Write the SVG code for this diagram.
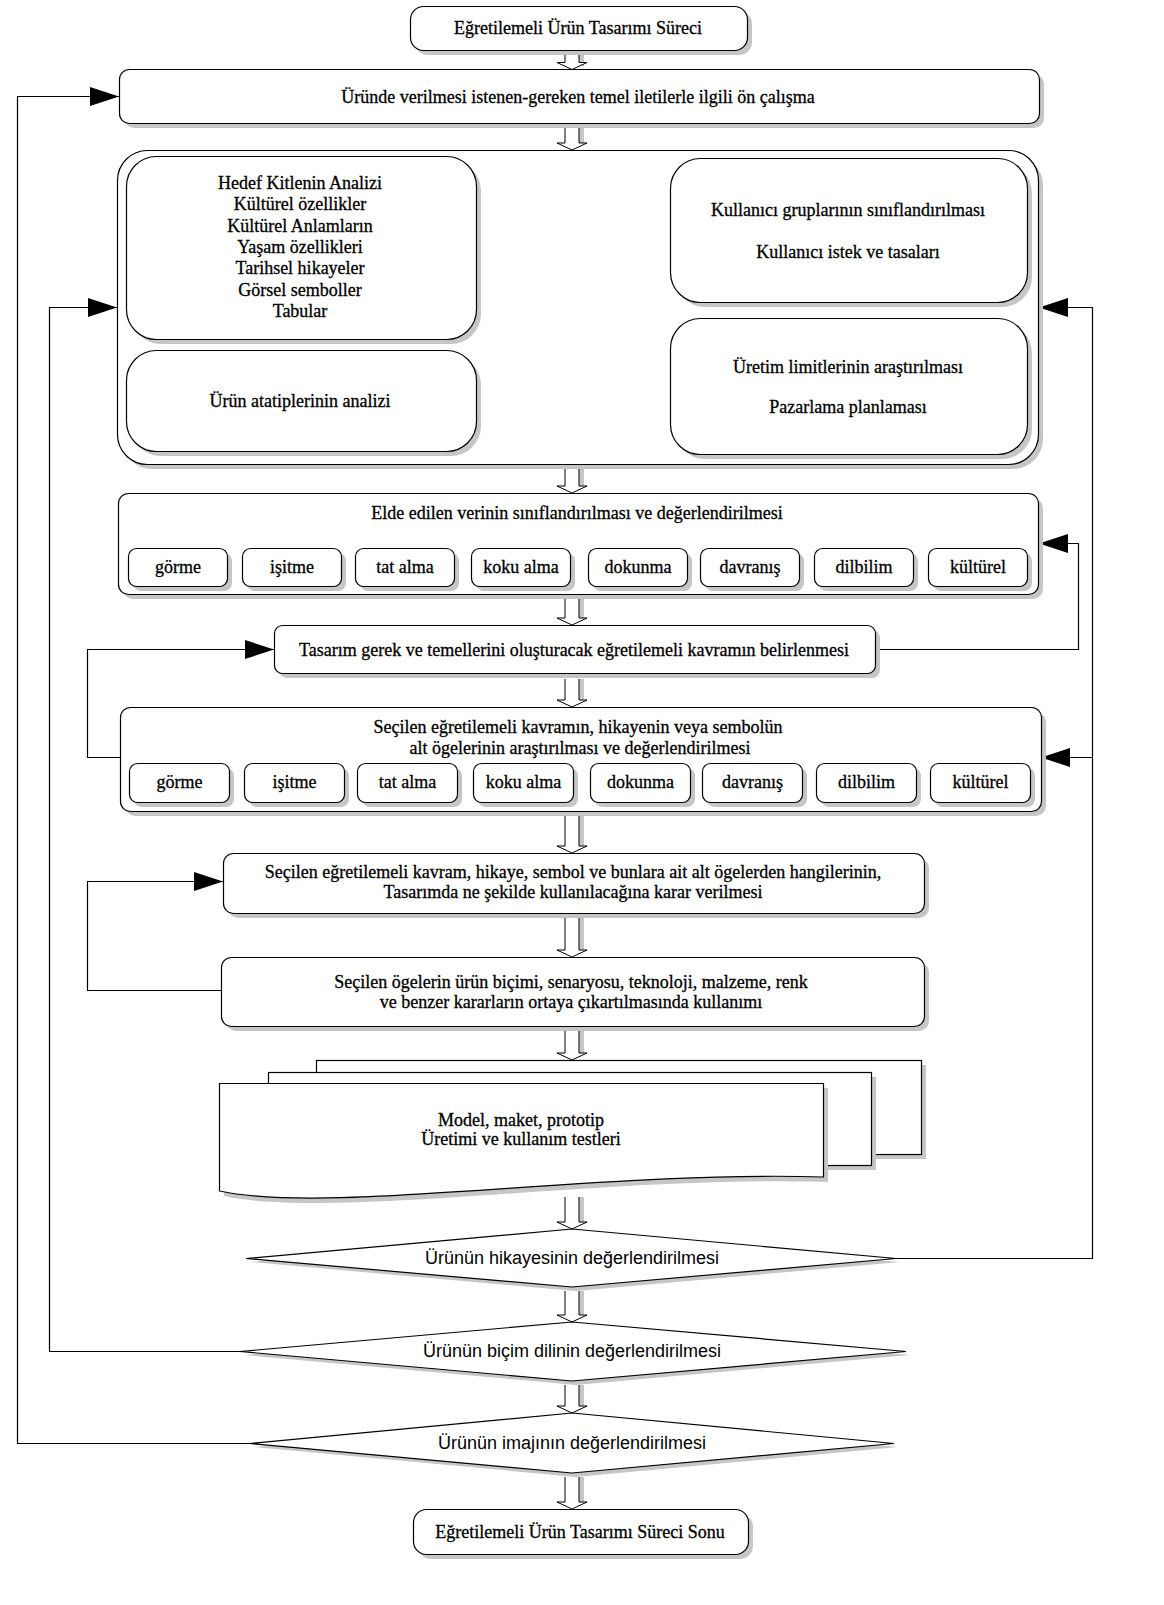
<svg xmlns="http://www.w3.org/2000/svg" width="1164" height="1605" viewBox="0 0 1164 1605">
<style>
.bg{fill:#fff}
.sh{fill:#c6c6c6;stroke:none}
.bx{fill:#fff;stroke:#000;stroke-width:1.2}
.t{font-family:"Liberation Serif","Times New Roman",serif;font-size:18px;fill:#000;stroke:#000;stroke-width:0.3;text-anchor:middle}
.s{font-family:"Liberation Sans",Arial,sans-serif;font-size:18px;fill:#000;text-anchor:middle}
.ln{fill:none;stroke:#000;stroke-width:1.2}
.ha{fill:#fff;stroke:#000;stroke-width:1}
</style>
<defs>
<marker id="ah" viewBox="0 0 29 19" markerWidth="29" markerHeight="19" refX="29" refY="9.5" orient="auto" markerUnits="userSpaceOnUse">
<path d="M0,0 L29,9.5 L0,19 Z" fill="#000"/>
</marker>
</defs>
<rect class="bg" x="0" y="0" width="1164" height="1605"/>

<g id="hollow-arrows">
<path class="sh" d="M579,55 h5 v11 h-5 z M579,128 h5 v17 h-5 z M579,469 h5 v19 h-5 z M579,599 h5 v21 h-5 z M579,679 h5 v23 h-5 z M579,816 h5 v32 h-5 z M579,918 h5 v34 h-5 z M579,1031 h5 v24 h-5 z M579,1197 h5 v27 h-5 z M579,1291 h5 v26 h-5 z M579,1385 h5 v23 h-5 z M579,1477 h5 v27 h-5 z"/>
<path class="ha" d="M565,55 V62.5 H557 L572,69.5 L587,62.5 H579 V55"/>
<path class="ha" d="M565,128 V143 H557 L572,150 L587,143 H579 V128"/>
<path class="ha" d="M565,469 V486 H557 L572,493 L587,486 H579 V469"/>
<path class="ha" d="M565,599 V618 H557 L572,625 L587,618 H579 V599"/>
<path class="ha" d="M565,679 V700 H557 L572,707 L587,700 H579 V679"/>
<path class="ha" d="M565,816 V846 H557 L572,853 L587,846 H579 V816"/>
<path class="ha" d="M565,918 V950 H557 L572,957 L587,950 H579 V918"/>
<path class="ha" d="M565,1031 V1053 H557 L572,1060 L587,1053 H579 V1031"/>
<path class="ha" d="M565,1197 V1222 H557 L572,1229 L587,1222 H579 V1197"/>
<path class="ha" d="M565,1291 V1315 H557 L572,1322 L587,1315 H579 V1291"/>
<path class="ha" d="M565,1385 V1406 H557 L572,1413 L587,1406 H579 V1385"/>
<path class="ha" d="M565,1477 V1502 H557 L572,1509 L587,1502 H579 V1477"/>
</g>

<g id="connectors">
<path class="ln" d="M250,1443.5 H17.5 V96.5 H119" marker-end="url(#ah)"/>
<path class="ln" d="M240,1351.5 H49.5 V307.5 H117" marker-end="url(#ah)"/>
<path class="ln" d="M896,1258.5 H1092.5 V307.5 H1039" marker-end="url(#ah)"/>
<path class="ln" d="M1092.5,757.5 H1041" marker-end="url(#ah)"/>
<path class="ln" d="M476,401.5 H524.5 V247.5 H476" marker-end="url(#ah)"/>
<path class="ln" d="M670,387.5 H637.5 V230.5 H670" marker-end="url(#ah)"/>
<path class="ln" d="M875,649.5 H1078.5 V543.5 H1039" marker-end="url(#ah)"/>
<path class="ln" d="M120,757.5 H87.5 V649.5 H274" marker-end="url(#ah)"/>
<path class="ln" d="M221,990.5 H87.5 V881.5 H223" marker-end="url(#ah)"/>
</g>

<g id="start">
<rect class="sh" x="415" y="11" width="337" height="44" rx="13"/>
<rect class="bx" x="410.5" y="6.5" width="337" height="44" rx="13"/>
<text class="t" x="578" y="34">Eğretilemeli Ürün Tasarımı Süreci</text>
</g>

<g id="on-calisma">
<rect class="sh" x="124" y="74" width="920" height="54" rx="10"/>
<rect class="bx" x="119.5" y="69.5" width="920" height="54" rx="10"/>
<text class="t" x="578" y="103">Üründe verilmesi istenen-gereken temel iletilerle ilgili ön çalışma</text>
</g>

<g id="container">
<rect class="sh" x="122" y="155" width="921" height="314" rx="30"/>
<rect class="bx" x="117.5" y="150.5" width="921" height="314" rx="30"/>
</g>

<g id="hedef-kitle">
<rect class="sh" x="131" y="161" width="350" height="183" rx="30"/>
<rect class="bx" x="126.5" y="156.5" width="350" height="183" rx="30"/>
<text class="t" x="300" y="189">Hedef Kitlenin Analizi</text>
<text class="t" x="300" y="210.3">Kültürel özellikler</text>
<text class="t" x="300" y="231.6">Kültürel Anlamların</text>
<text class="t" x="300" y="252.9">Yaşam özellikleri</text>
<text class="t" x="300" y="274.2">Tarihsel hikayeler</text>
<text class="t" x="300" y="295.5">Görsel semboller</text>
<text class="t" x="300" y="316.8">Tabular</text>
</g>

<g id="atatipler">
<rect class="sh" x="131" y="355" width="350" height="101" rx="30"/>
<rect class="bx" x="126.5" y="350.5" width="350" height="101" rx="30"/>
<text class="t" x="300" y="407">Ürün atatiplerinin analizi</text>
</g>

<g id="kullanici">
<rect class="sh" x="675" y="163" width="357" height="144" rx="30"/>
<rect class="bx" x="670.5" y="158.5" width="357" height="144" rx="30"/>
<text class="t" x="848" y="216">Kullanıcı gruplarının sınıflandırılması</text>
<text class="t" x="848" y="258">Kullanıcı istek ve tasaları</text>
</g>

<g id="uretim">
<rect class="sh" x="675" y="323" width="357" height="136" rx="30"/>
<rect class="bx" x="670.5" y="318.5" width="357" height="136" rx="30"/>
<text class="t" x="848" y="373">Üretim limitlerinin araştırılması</text>
<text class="t" x="848" y="413">Pazarlama planlaması</text>
</g>

<g id="elde-edilen">
<rect class="sh" x="123" y="498" width="920" height="101" rx="10"/>
<rect class="bx" x="118.5" y="493.5" width="920" height="101" rx="10"/>
<text class="t" x="577" y="519">Elde edilen verinin sınıflandırılması ve değerlendirilmesi</text>
<g id="elde-sub">
<rect class="sh" x="133" y="553" width="99" height="38" rx="8"/><rect class="bx" x="128.5" y="548.5" width="99" height="38" rx="8"/><text class="t" x="178" y="573">görme</text>
<rect class="sh" x="247" y="553" width="99" height="38" rx="8"/><rect class="bx" x="242.5" y="548.5" width="99" height="38" rx="8"/><text class="t" x="292" y="573">işitme</text>
<rect class="sh" x="360" y="553" width="99" height="38" rx="8"/><rect class="bx" x="355.5" y="548.5" width="99" height="38" rx="8"/><text class="t" x="405" y="573">tat alma</text>
<rect class="sh" x="476" y="553" width="99" height="38" rx="8"/><rect class="bx" x="471.5" y="548.5" width="99" height="38" rx="8"/><text class="t" x="521" y="573">koku alma</text>
<rect class="sh" x="593" y="553" width="99" height="38" rx="8"/><rect class="bx" x="588.5" y="548.5" width="99" height="38" rx="8"/><text class="t" x="638" y="573">dokunma</text>
<rect class="sh" x="705" y="553" width="99" height="38" rx="8"/><rect class="bx" x="700.5" y="548.5" width="99" height="38" rx="8"/><text class="t" x="750" y="573">davranış</text>
<rect class="sh" x="819" y="553" width="99" height="38" rx="8"/><rect class="bx" x="814.5" y="548.5" width="99" height="38" rx="8"/><text class="t" x="864" y="573">dilbilim</text>
<rect class="sh" x="933" y="553" width="99" height="38" rx="8"/><rect class="bx" x="928.5" y="548.5" width="99" height="38" rx="8"/><text class="t" x="978" y="573">kültürel</text>
</g>
</g>

<g id="tasarim-gerek">
<rect class="sh" x="279" y="630" width="601" height="48" rx="8"/>
<rect class="bx" x="274.5" y="625.5" width="601" height="48" rx="8"/>
<text class="t" x="574" y="656">Tasarım gerek ve temellerini oluşturacak eğretilemeli kavramın belirlenmesi</text>
</g>

<g id="secilen-kavramin">
<rect class="sh" x="125" y="712" width="921" height="104" rx="10"/>
<rect class="bx" x="120.5" y="707.5" width="921" height="104" rx="10"/>
<text class="t" x="578" y="733">Seçilen eğretilemeli kavramın, hikayenin veya sembolün</text>
<text class="t" x="580" y="754">alt ögelerinin araştırılması ve değerlendirilmesi</text>
<g id="secilen-sub">
<rect class="sh" x="134" y="768" width="100" height="39" rx="8"/><rect class="bx" x="129.5" y="763.5" width="100" height="39" rx="8"/><text class="t" x="179.5" y="788">görme</text>
<rect class="sh" x="249" y="768" width="100" height="39" rx="8"/><rect class="bx" x="244.5" y="763.5" width="100" height="39" rx="8"/><text class="t" x="294.5" y="788">işitme</text>
<rect class="sh" x="362" y="768" width="100" height="39" rx="8"/><rect class="bx" x="357.5" y="763.5" width="100" height="39" rx="8"/><text class="t" x="407.5" y="788">tat alma</text>
<rect class="sh" x="478" y="768" width="100" height="39" rx="8"/><rect class="bx" x="473.5" y="763.5" width="100" height="39" rx="8"/><text class="t" x="523.5" y="788">koku alma</text>
<rect class="sh" x="595" y="768" width="100" height="39" rx="8"/><rect class="bx" x="590.5" y="763.5" width="100" height="39" rx="8"/><text class="t" x="640.5" y="788">dokunma</text>
<rect class="sh" x="707" y="768" width="100" height="39" rx="8"/><rect class="bx" x="702.5" y="763.5" width="100" height="39" rx="8"/><text class="t" x="752.5" y="788">davranış</text>
<rect class="sh" x="821" y="768" width="100" height="39" rx="8"/><rect class="bx" x="816.5" y="763.5" width="100" height="39" rx="8"/><text class="t" x="866.5" y="788">dilbilim</text>
<rect class="sh" x="935" y="768" width="100" height="39" rx="8"/><rect class="bx" x="930.5" y="763.5" width="100" height="39" rx="8"/><text class="t" x="980.5" y="788">kültürel</text>
</g>
</g>

<g id="karar">
<rect class="sh" x="228" y="858" width="701" height="60" rx="10"/>
<rect class="bx" x="223.5" y="853.5" width="701" height="60" rx="10"/>
<text class="t" x="573" y="878">Seçilen eğretilemeli kavram, hikaye, sembol ve bunlara ait alt ögelerden hangilerinin,</text>
<text class="t" x="573" y="898">Tasarımda ne şekilde kullanılacağına karar verilmesi</text>
</g>

<g id="kullanimi">
<rect class="sh" x="226" y="962" width="703" height="69" rx="10"/>
<rect class="bx" x="221.5" y="957.5" width="703" height="69" rx="10"/>
<text class="t" x="571" y="988">Seçilen ögelerin ürün biçimi, senaryosu, teknoloji, malzeme, renk</text>
<text class="t" x="571" y="1008">ve benzer kararların ortaya çıkartılmasında kullanımı</text>
</g>

<g id="model-maket">
<rect class="sh" x="321" y="1065" width="605" height="94"/>
<rect class="bx" x="316.5" y="1060.5" width="605" height="94"/>
<rect class="sh" x="273" y="1077" width="603" height="93"/>
<rect class="bx" x="268.5" y="1072.5" width="603" height="93"/>
<path class="sh" d="M224,1088 H828 V1182 C605,1175 335,1220 224,1196 Z"/>
<path class="bx" d="M219.5,1083.5 H823.5 V1177 C600,1170 330,1215 219.5,1191 Z"/>
<text class="t" x="521" y="1126">Model, maket, prototip</text>
<text class="t" x="521" y="1145">Üretimi ve kullanım testleri</text>
</g>

<g id="hikaye">
<polygon class="sh" points="250,1262 576,1233 900,1262 576,1291"/>
<polygon class="bx" points="246,1258.5 572,1229 896,1258.5 572,1287"/>
<text class="s" x="572" y="1264">Ürünün hikayesinin değerlendirilmesi</text>
</g>

<g id="bicim">
<polygon class="sh" points="244,1355 576,1326 910,1355 576,1385"/>
<polygon class="bx" points="240,1351.5 572,1322 906,1351.5 572,1381"/>
<text class="s" x="572" y="1357">Ürünün biçim dilinin değerlendirilmesi</text>
</g>

<g id="imaj">
<polygon class="sh" points="254,1447 576,1417 898,1447 576,1477"/>
<polygon class="bx" points="250,1443.5 572,1413 894,1443.5 572,1473"/>
<text class="s" x="572" y="1449">Ürünün imajının değerlendirilmesi</text>
</g>

<g id="end">
<rect class="sh" x="418" y="1514" width="335" height="45" rx="13"/>
<rect class="bx" x="413.5" y="1509.5" width="335" height="45" rx="13"/>
<text class="t" x="580" y="1538">Eğretilemeli Ürün Tasarımı Süreci Sonu</text>
</g>
</svg>
